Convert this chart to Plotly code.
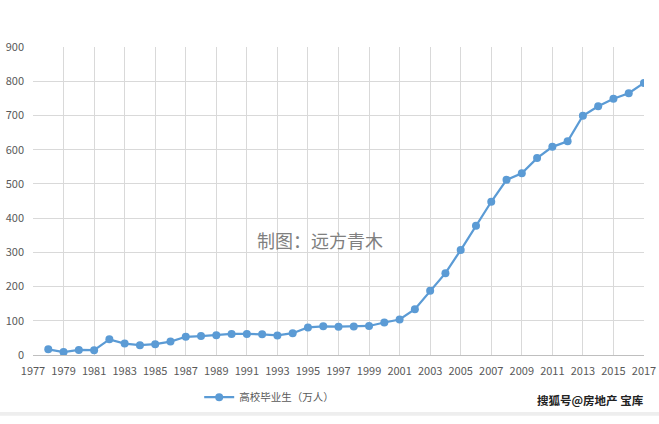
import plotly.graph_objects as go

years = list(range(1978, 2018))
graduates = [16.5, 8.5, 14.7, 14.0, 45.7, 33.5, 28.7, 31.6, 39.3, 53.2,
             55.3, 57.6, 61.4, 61.4, 60.4, 57.1, 63.7, 80.5, 83.9, 82.9,
             83.0, 84.8, 95.0, 103.6, 133.7, 187.7, 239.1, 306.8, 377.5, 447.8,
             511.9, 531.1, 575.4, 608.2, 624.7, 699.0, 727.0, 749.0, 765.0, 795.0]
series_name = "高校毕业生（万人）"
x_ticks = list(range(1977, 2018, 2))
y_ticks = list(range(0, 901, 100))

fig = go.Figure()
fig.add_trace(go.Scatter(
    x=years, y=graduates, mode="lines+markers", name=series_name,
    line=dict(color="#5B9BD5", width=2.25),
    marker=dict(color="#5B9BD5", size=8),
))

fig.update_layout(
    width=659, height=424,
    margin=dict(l=33, r=15, t=47, b=62),
    paper_bgcolor="white", plot_bgcolor="white",
    font=dict(family="Noto Sans CJK SC, Open Sans, sans-serif", color="#595959", size=11),
    showlegend=True,
    legend=dict(orientation="h", x=0.272, xanchor="left", y=-0.137, yanchor="middle",
                font=dict(size=10.5, color="#595959"), bgcolor="rgba(0,0,0,0)",
                itemwidth=30),
    xaxis=dict(range=[1977, 2017], tickmode="array", tickvals=x_ticks,
               ticktext=[str(t) for t in x_ticks], showgrid=True, gridcolor="#D9D9D9",
               gridwidth=1, zeroline=False, showline=True, linecolor="#BFBFBF",
               linewidth=1, ticks="", ticklabelstandoff=6, automargin=False,
               tickfont=dict(size=11, color="#595959"), fixedrange=True),
    yaxis=dict(range=[0, 900], tickmode="array", tickvals=y_ticks,
               showgrid=True, gridcolor="#D9D9D9", gridwidth=1, zeroline=False,
               showline=False, ticks="", ticklabelstandoff=8, automargin=False,
               tickfont=dict(size=11, color="#595959"), fixedrange=True),
)

fig.add_annotation(text="制图：远方青木", xref="paper", yref="paper",
                   x=0.47, y=0.375, showarrow=False,
                   font=dict(family="Noto Sans CJK SC", size=18, color="#808080"))
fig.add_annotation(text="<b>搜狐号@房地产 宝库</b>", xref="paper", yref="paper",
                   x=1.003, y=-0.145, xanchor="right", yanchor="middle", showarrow=False,
                   font=dict(family="Noto Sans CJK SC", size=11.5, color="#222222"))
fig.add_shape(type="rect", xref="paper", yref="paper", x0=-0.06, x1=1.03,
              y0=-0.197, y1=-0.185, fillcolor="#EEEEEE", line=dict(width=0), layer="below")

fig.write_html("out.html")
